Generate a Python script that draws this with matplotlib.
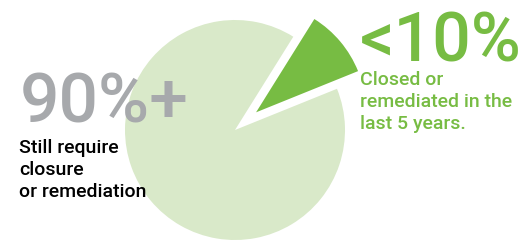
"""
Pie chart: share of sites closed / remediated vs still open
"""

import matplotlib.pyplot as plt

W, H = 523, 241

labels = ["<10%", "90%+"]
shares = [10, 90]
captions = ["Closed or\nremediated in the\nlast 5 years.",
            "Still require\nclosure\nor remediation"]

GREEN = "#77bc43"
LIGHT = "#d9e9c9"
GREY = "#a7a9ac"

plt.rcParams['font.family'] = ['Roboto', 'DejaVu Sans']

fig = plt.figure(figsize=(W / 100, H / 100), dpi=100)

# pie axes: centre (235, 130) px, radius 110 px
cx, cy, r = 235, 130, 110
ax = fig.add_axes([(cx - r) / W, (H - cy - r) / H, 2 * r / W, 2 * r / H])
ax.pie(shares, colors=[GREEN, LIGHT], startangle=22, explode=[0.25, 0],
       radius=1, wedgeprops=dict(linewidth=0))
ax.set_xlim(-1, 1)
ax.set_ylim(-1, 1)
ax.set_aspect('auto')
ax.axis('off')


def px(x, y):
    return x / W, 1 - y / H


# small slice labels (right)
fig.text(*px(360, 61), labels[0], color=GREEN, fontsize=49, fontweight='medium',
         va='baseline', ha='left')
fig.text(*px(360, 71), captions[0], color=GREEN, fontsize=14, fontweight='medium',
         va='top', ha='left', linespacing=1.3)

# big slice labels (left)
fig.text(*px(20, 123), labels[1], color=GREY, fontsize=50, fontweight='medium',
         va='baseline', ha='left')
fig.text(*px(19, 139), captions[1], color='black', fontsize=14, fontweight='medium',
         va='top', ha='left', linespacing=1.3)

fig.savefig("out.png", dpi=100)
